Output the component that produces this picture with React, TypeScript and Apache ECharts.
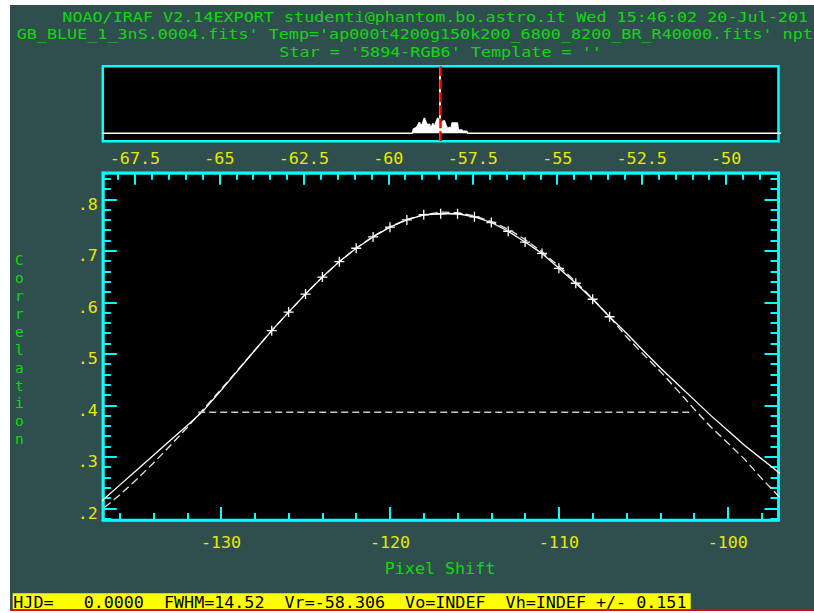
import { useEffect, useRef } from "react";
import * as echarts from "echarts";

// ---- text ----
const titleLines = [
  "NOAO/IRAF V2.14EXPORT studenti@phantom.bo.astro.it Wed 15:46:02 20-Jul-201",
  "GB_BLUE_1_3nS.0004.fits' Temp='ap000t4200g150k200_6800_8200_BR_R40000.fits' npt",
  "Star = '5894-RGB6' Template = ''",
];
const yAxisTitle = "Correlation";
const xAxisTitle = "Pixel Shift";
const statusLine = "HJD=   0.0000  FWHM=14.52  Vr=-58.306  Vo=INDEF  Vh=INDEF +/- 0.151";

// ---- zoomed correlation peak (pixel shift vs correlation) ----
const pixelShift = [
  -138, -137, -136, -135, -134, -133, -132, -131, -130, -129, -128, -127, -126, -125,
  -124, -123, -122, -121, -120, -119, -118, -117, -116, -115, -114, -113, -112, -111,
  -110, -109, -108, -107, -106, -105, -104, -103, -102, -101, -100, -99, -98, -97, -96,
];
const correlation = [
  0.187, 0.216, 0.245, 0.274, 0.303, 0.332, 0.361, 0.391, 0.429, 0.468, 0.507, 0.545, 0.581, 0.616,
  0.649, 0.679, 0.705, 0.727, 0.746, 0.760, 0.770, 0.772, 0.772, 0.766, 0.755, 0.738, 0.717, 0.695,
  0.666, 0.637, 0.606, 0.572, 0.540, 0.506, 0.473, 0.442, 0.411, 0.380, 0.351, 0.322, 0.296, 0.270, 0.245,
];
const gaussianFit = [
  0.172, 0.199, 0.226, 0.256, 0.288, 0.322, 0.357, 0.394, 0.431, 0.469, 0.507, 0.545, 0.581, 0.616,
  0.649, 0.679, 0.705, 0.728, 0.747, 0.761, 0.770, 0.775, 0.774, 0.768, 0.757, 0.742, 0.722, 0.698,
  0.670, 0.640, 0.607, 0.572, 0.533, 0.499, 0.466, 0.430, 0.393, 0.358, 0.327, 0.295, 0.258, 0.224, 0.195,
];
const fitWindow = [-127, -107];
const fwhmLevel = 0.3864;
const fwhmBounds = [-131.35, -102.2];

// ---- full correlation overview (velocity vs relative height) ----
const overviewVelocity = [
  -69, -59.287, -59.258, -59.159, -59.08, -59.041, -58.991, -58.932, -58.883, -58.833, -58.784,
  -58.735, -58.685, -58.636, -58.587, -58.537, -58.488, -58.438, -58.389, -58.34, -58.29, -58.241,
  -58.192, -58.142, -58.113, -57.955, -57.925, -57.826, -57.797, -57.678, -57.649, -48,
];
const overviewHeight = [
  0, 0, 0.057, 0.08, 0.147, 0.103, 0.124, 0.204, 0.147, 0.103, 0.124,
  0.057, 0.133, 0.08, 0.147, 0.204, 0.16, 0.124, 0.16, 0.169, 0.103, 0.057,
  0.08, 0.057, 0.137, 0.137, 0.044, 0.044, 0.027, 0.027, 0, 0,
];
const peakVelocity = -58.47;

// ---- axes ----
const pixelRange = [-137, -97];
const velocityRange = [-68.45, -48.45];
const corrRange = [0.1773, 0.8515];
const pixelMajor = [-130, -120, -110, -100];
const velocityMajor = [-67.5, -65, -62.5, -60, -57.5, -55, -52.5, -50];
const corrMajor = [0.2, 0.3, 0.4, 0.5, 0.6, 0.7, 0.8];

function minorTicks(from: number, to: number, step: number, skip: number[]) {
  const out: number[] = [];
  for (let v = from; v <= to + 1e-9; v += step) {
    const r = Math.round(v * 1000) / 1000;
    if (!skip.some((s) => Math.abs(s - r) < 1e-6)) out.push(r);
  }
  return out;
}
const pixelMinor = minorTicks(-136, -98, 2, pixelMajor);
const velocityMinor = minorTicks(-68, -49, 0.5, velocityMajor);
const corrMinor = minorTicks(0.18, 0.84, 0.02, corrMajor);

const FONT = "'DejaVu Sans Mono', monospace";
const FS = 16.7;
// stacked header lines use a smaller face stretched to the same character pitch
const FS_TIGHT = 14.5;
const STRETCH = 1.155;
const CYAN = "#00ffff";
const YELLOW = "#e8e800";
const GREEN = "#10d810";
const BG = "#2f4f4f";

function frameAxis(
  gridIndex: number,
  position: string,
  range: number[],
  ticks: number[],
  len: number,
  line: boolean,
  label: any
) {
  return {
    type: "value",
    gridIndex,
    position,
    min: range[0],
    max: range[1],
    offset: 0,
    axisLine: { show: line, onZero: false, lineStyle: { color: CYAN, width: 2.5 } },
    axisTick: { show: true, inside: true, length: len, customValues: ticks, lineStyle: { color: CYAN, width: 2 } },
    axisLabel: label,
    splitLine: { show: false },
  };
}

const noLabel = { show: false };

function headerText(text: string, x: number, y: number, center: boolean) {
  return {
    type: "text",
    x,
    y,
    scaleX: STRETCH,
    scaleY: 1,
    style: {
      text,
      fill: GREEN,
      fontFamily: FONT,
      fontSize: FS_TIGHT,
      textAlign: center ? "center" : "left",
      align: center ? "center" : "left",
      textVerticalAlign: "middle",
      verticalAlign: "middle",
    },
  };
}

export default function App() {
  const ref = useRef<HTMLDivElement>(null);

  useEffect(() => {
    if (!ref.current) return;
    const chart = echarts.init(ref.current, undefined, { renderer: "svg" });

    const peak = pixelShift.map((p, i) => [p, correlation[i]]);
    const fit = pixelShift.map((p, i) => [p, gaussianFit[i]]);
    const fitPoints = peak.filter((d) => d[0] >= fitWindow[0] && d[0] <= fitWindow[1]);
    const overview = overviewVelocity.map((v, i) => [v, overviewHeight[i]]);

    const labelBase = { fontFamily: FONT, fontSize: FS, color: YELLOW };

    chart.setOption({
      animation: false,
      backgroundColor: BG,
      grid: [
        { left: 92.8, top: 61.2, width: 675.7, height: 75, show: true, backgroundColor: "#000", borderColor: CYAN, borderWidth: 2.5 },
        { left: 92.8, top: 167.8, width: 675.7, height: 347.2, show: true, backgroundColor: "#000", borderColor: CYAN, borderWidth: 2.5 },
      ],
      xAxis: [
        { type: "value", gridIndex: 0, min: velocityRange[0], max: velocityRange[1], show: false, splitLine: { show: false } },
        frameAxis(1, "bottom", pixelRange, pixelMajor, 13, true, {
          ...labelBase,
          customValues: pixelMajor,
          margin: 13,
        }),
        frameAxis(1, "bottom", pixelRange, pixelMinor, 7, false, noLabel),
        frameAxis(1, "top", velocityRange, velocityMajor, 12, true, {
          ...labelBase,
          customValues: velocityMajor,
          margin: 6,
        }),
        frameAxis(1, "top", velocityRange, velocityMinor, 7, false, noLabel),
      ],
      yAxis: [
        { type: "value", gridIndex: 0, min: -0.105, max: 0.895, show: false, splitLine: { show: false } },
        frameAxis(1, "left", corrRange, corrMajor, 14, true, {
          ...labelBase,
          customValues: corrMajor,
          margin: 5,
          formatter: (v: number) => "{d|" + v.toFixed(1).replace(/^0/, "") + "}",
          rich: {
            d: { fontFamily: FONT, fontSize: FS, color: YELLOW, padding: [9, 0, 0, 0] },
          },
        }),
        frameAxis(1, "left", corrRange, corrMinor, 8, false, noLabel),
        frameAxis(1, "right", corrRange, corrMajor, 14, true, noLabel),
        frameAxis(1, "right", corrRange, corrMinor, 8, false, noLabel),
      ],
      series: [
        {
          type: "line",
          xAxisIndex: 0,
          yAxisIndex: 0,
          data: overview,
          symbol: "none",
          lineStyle: { color: "#ffffff", width: 1.5 },
          areaStyle: { color: "#ffffff", opacity: 1 },
          markLine: {
            silent: true,
            symbol: ["none", "none"],
            label: { show: false },
            data: [
              { xAxis: peakVelocity, lineStyle: { color: "#ffffff", width: 2, type: "solid" } },
              { xAxis: peakVelocity, lineStyle: { color: "#ff0000", width: 2.5, type: [10, 3] } },
            ],
          },
        },
        {
          type: "line",
          xAxisIndex: 1,
          yAxisIndex: 1,
          data: fit,
          symbol: "none",
          clip: true,
          lineStyle: { color: "#e6e6e6", width: 1.3, type: [8, 4] },
        },
        {
          type: "line",
          xAxisIndex: 1,
          yAxisIndex: 1,
          data: peak,
          symbol: "none",
          clip: true,
          lineStyle: { color: "#ffffff", width: 1.3 },
        },
        {
          type: "line",
          xAxisIndex: 1,
          yAxisIndex: 1,
          data: [
            [fwhmBounds[0], fwhmLevel],
            [fwhmBounds[1], fwhmLevel],
          ],
          symbol: "none",
          lineStyle: { color: "#c8c8c8", width: 1.5, type: [7, 4] },
        },
        {
          type: "scatter",
          xAxisIndex: 1,
          yAxisIndex: 1,
          data: fitPoints,
          symbol: "path://M5 0L5 10M0 5L10 5",
          symbolSize: 10,
          itemStyle: { color: "#ffffff", borderColor: "#ffffff", borderWidth: 1.3, opacity: 1 },
        },
      ],
      graphic: [
        headerText(titleLines[0], 52.3, 12.3, false),
        headerText(titleLines[1], 6.7, 29.3, false),
        headerText(titleLines[2], 430.6, 47, true),
        {
          type: "text",
          x: 9.3,
          y: 344.7,
          style: {
            text: yAxisTitle.split("").join("\n"),
            fill: GREEN,
            fontFamily: FONT,
            fontSize: FS_TIGHT,
            lineHeight: 17.93,
            textAlign: "center",
            align: "center",
            textVerticalAlign: "middle",
            verticalAlign: "middle",
          },
        },
        {
          type: "text",
          x: 430,
          y: 563.3,
          style: { text: xAxisTitle, fill: GREEN, fontFamily: FONT, fontSize: FS, textAlign: "center", align: "center", textVerticalAlign: "middle", verticalAlign: "middle" },
        },
        {
          type: "rect",
          shape: { x: 2.7, y: 588.3, width: 678, height: 16 },
          style: { fill: "#ffff00" },
        },
        {
          type: "text",
          x: 3.3,
          y: 596.5,
          style: { text: statusLine, fill: "#000000", fontFamily: FONT, fontSize: FS, textVerticalAlign: "middle", verticalAlign: "middle" },
        },
        {
          type: "line",
          shape: { x1: 0, y1: 605, x2: 804, y2: 605 },
          style: { stroke: "#ff0000", lineWidth: 1.4 },
        },
      ],
    });

    return () => chart.dispose();
  }, []);

  return <div ref={ref} style={{ position: "absolute", left: 10, top: 5, width: 804, height: 606 }} />;
}
